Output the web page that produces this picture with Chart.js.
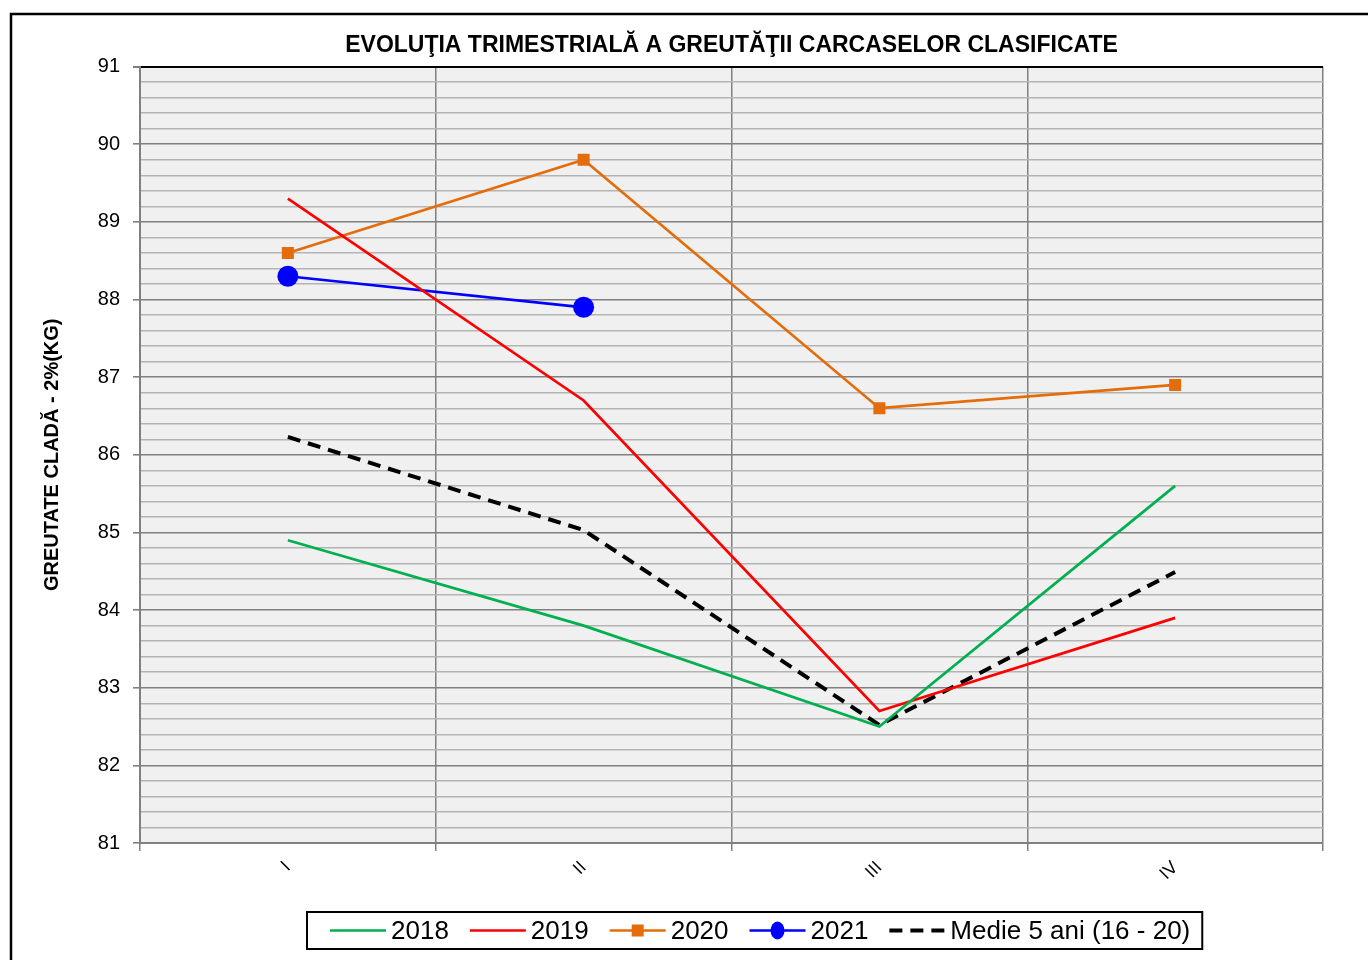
<!DOCTYPE html>
<html>
<head>
<meta charset="utf-8">
<script src="https://cdn.jsdelivr.net/npm/chart.js@4.4.1/dist/chart.umd.min.js"></script>
<style>
  html, body { margin: 0; padding: 0; background: #fff; }
  canvas { display: block; }
</style>
</head>
<body>
<canvas id="line-chart" width="1368" height="960"></canvas>
<script>
// Date
const quarters = ["I", "II", "III", "IV"];
const y2018 = [84.9, 83.8, 82.5, 85.6];
const y2019 = [89.3, 86.7, 82.7, 83.9];
const y2020 = [88.6, 89.8, 86.6, 86.9];
const y2021 = [88.3, 87.9, null, null];
const medie = [86.23, 85.03, 82.52, 84.49];
const yMin = 81, yMax = 91;

const FONT = "'Liberation Sans', Arial, sans-serif";

function isMajor(v) {
    return Math.abs(v - Math.round(v)) < 1e-6;
}

// fundal, chenar exterior si legenda
const decor = {
    id: 'decor',
    beforeDraw(chart) {
        const ctx = chart.ctx, a = chart.chartArea;
        ctx.save();
        ctx.fillStyle = '#f0f0f0';
        ctx.fillRect(a.left, a.top, a.right - a.left, a.bottom - a.top);
        ctx.strokeStyle = '#000';
        ctx.lineWidth = 2.5;
        ctx.beginPath();
        ctx.moveTo(11, 960);
        ctx.lineTo(11, 14);
        ctx.lineTo(1368, 14);
        ctx.stroke();
        ctx.restore();
    },
    afterDraw(chart) {
        const ctx = chart.ctx;
        const cy = 930.5;
        let x = 330;
        ctx.save();
        ctx.font = '26px ' + FONT;
        ctx.textBaseline = 'middle';
        chart.data.datasets.forEach(ds => {
            ctx.strokeStyle = ds.borderColor;
            ctx.lineWidth = ds.borderWidth;
            ctx.setLineDash(ds.borderDash || []);
            ctx.beginPath();
            ctx.moveTo(x, cy);
            ctx.lineTo(x + 56, cy);
            ctx.stroke();
            ctx.setLineDash([]);
            if (ds.legendMarker) {
                ctx.fillStyle = ds.borderColor;
                if (ds.pointStyle === 'rect') {
                    ctx.fillRect(x + 28 - 6, cy - 6, 12, 12);
                } else {
                    ctx.beginPath();
                    ctx.ellipse(x + 28, cy, 7, 9, 0, 0, Math.PI * 2);
                    ctx.fill();
                }
            }
            ctx.fillStyle = '#000';
            ctx.fillText(ds.label, x + 61, cy + 1);
            x += 61 + ctx.measureText(ds.label).width + 21;
        });
        ctx.strokeStyle = '#000';
        ctx.lineWidth = 2;
        ctx.strokeRect(307, 912, x - 21 + 12 - 307, 37);
        ctx.restore();
    }
};

new Chart(document.getElementById("line-chart"), {
    type: 'line',
    data: {
        labels: quarters,
        datasets: [
            {
                label: "2018",
                data: y2018,
                borderColor: "#00b050",
                borderWidth: 2.7,
                pointRadius: 0
            },
            {
                label: "2019",
                data: y2019,
                borderColor: "#ff0000",
                borderWidth: 2.7,
                pointRadius: 0
            },
            {
                label: "2020",
                data: y2020,
                borderColor: "#e46c0a",
                backgroundColor: "#e46c0a",
                borderWidth: 2.7,
                pointStyle: 'rect',
                pointRadius: 8.5,
                pointBorderWidth: 0,
                legendMarker: true
            },
            {
                label: "2021",
                data: y2021,
                borderColor: "#0000ff",
                backgroundColor: "#0000ff",
                borderWidth: 2.7,
                pointStyle: 'circle',
                pointRadius: 10.5,
                pointBorderWidth: 0,
                legendMarker: true
            },
            {
                label: "Medie 5 ani (16 - 20)",
                data: medie,
                borderColor: "#000000",
                borderWidth: 4,
                borderDash: [13, 8],
                pointRadius: 0
            }
        ]
    },
    options: {
        responsive: false,
        animation: false,
        devicePixelRatio: 1,
        layout: { padding: { left: 0, right: 45, top: 0, bottom: 0 } },
        plugins: {
            legend: { display: false },
            tooltip: { enabled: false },
            title: {
                display: true,
                fullSize: false,
                text: 'EVOLUŢIA TRIMESTRIALĂ A GREUTĂŢII CARCASELOR CLASIFICATE',
                color: '#000',
                font: { family: FONT, size: 23, weight: 'bold' },
                padding: { top: 32, bottom: 7 }
            }
        },
        scales: {
            x: {
                offset: true,
                afterFit: s => { s.height = 117; },
                grid: {
                    offset: true,
                    color: c => c.index === 4 ? '#000' : '#808080',
                    lineWidth: c => c.index === 4 ? 2 : 1.5,
                    tickColor: '#808080',
                    tickLength: 8
                },
                border: { color: '#808080', width: 2 },
                ticks: {
                    color: '#000',
                    font: { family: FONT, size: 18 },
                    minRotation: 45,
                    maxRotation: 45,
                    padding: 6
                }
            },
            y: {
                min: yMin,
                max: yMax,
                afterFit: s => { s.width = 140; },
                grid: {
                    color: c => c.tick.value === yMax ? '#000' : (isMajor(c.tick.value) ? '#808080' : '#b4b4b4'),
                    lineWidth: c => c.tick.value === yMax ? 2 : (isMajor(c.tick.value) ? 1.6 : 1.4),
                    tickColor: c => isMajor(c.tick.value) ? '#808080' : 'rgba(0,0,0,0)',
                    tickLength: 7
                },
                border: { color: '#808080', width: 2 },
                ticks: {
                    stepSize: 0.2,
                    maxTicksLimit: 60,
                    autoSkip: false,
                    color: '#000',
                    padding: 13,
                    font: { family: FONT, size: 20 },
                    callback: v => isMajor(v) ? String(Math.round(v)) : ''
                },
                title: {
                    display: true,
                    text: 'GREUTATE CLADĂ - 2%(KG)',
                    color: '#000',
                    font: { family: FONT, size: 20, weight: 'bold' },
                    padding: { top: 40, bottom: 0 }
                }
            }
        }
    },
    plugins: [decor]
});
</script>
</body>
</html>
